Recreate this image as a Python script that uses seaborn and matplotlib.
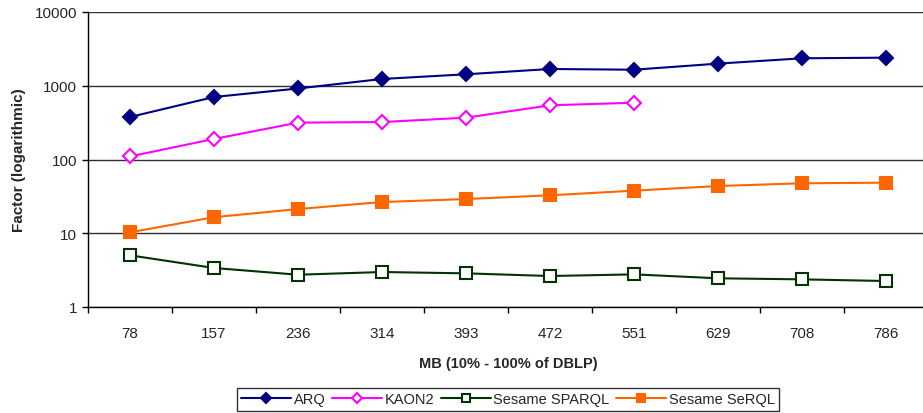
import numpy as np
import pandas as pd
import matplotlib
matplotlib.use('Agg')
import matplotlib.pyplot as plt
import seaborn as sns

# x categories (MB)
sizes = ['78', '157', '236', '314', '393', '472', '551', '629', '708', '786']

# factors
arq = [377, 704, 918, 1236, 1430, 1687, 1650, 1995, 2356, 2404]
kaon2 = [110, 190, 316, 322, 369, 543, 589, np.nan, np.nan, np.nan]
sesame_sparql = [5.02, 3.38, 2.74, 2.98, 2.86, 2.63, 2.77, 2.45, 2.37, 2.25]
sesame_serql = [10.3, 16.5, 21.3, 26.5, 29.1, 32.7, 37.8, 43.7, 47.6, 48.5]

sns.set_style('white')
plt.rcParams['font.family'] = ['Liberation Sans', 'DejaVu Sans']

fig = plt.figure(figsize=(9.23, 4.14), dpi=100)
ax = fig.add_axes([88 / 923, 1 - 308 / 414, 840 / 923, 295 / 414])

pos = np.arange(len(sizes))
series = [
    ('ARQ', arq, '#000080', 'D', '#000080', 7),
    ('KAON2', kaon2, '#FF00FF', 'D', 'white', 7),
    ('Sesame SPARQL', sesame_sparql, '#003300', 's', 'white', 8),
    ('Sesame SeRQL', sesame_serql, '#FF6600', 's', '#FF6600', 8),
]
for name, vals, col, mk, fc, ms in series:
    df = pd.DataFrame({'x': pos, 'y': vals}).dropna()
    sns.lineplot(data=df, x='x', y='y', ax=ax, color=col, marker=mk,
                 markersize=ms, markerfacecolor=fc, markeredgecolor=col,
                 markeredgewidth=1.5, linewidth=1.5, label=name)

ax.set_yscale('log')
ax.set_ylim(1, 10000)
ax.set_xlim(-0.5, len(sizes) - 0.5)
ax.set_yticks([1, 10, 100, 1000, 10000])
ax.set_yticklabels(['1', '10', '100', '1000', '10000'])
ax.yaxis.set_minor_locator(matplotlib.ticker.NullLocator())
ax.set_xticks(pos)
ax.set_xticklabels(sizes)
ax.set_xticks(np.arange(-0.5, len(sizes)), minor=True)
ax.tick_params(axis='x', which='major', length=0, pad=14, labelsize=11)
ax.tick_params(axis='x', which='minor', length=4, width=1, color='black', direction='out')
ax.tick_params(axis='y', which='major', length=4, width=1, color='black', direction='out', labelsize=11, pad=4)
ax.yaxis.set_ticks_position('left')
ax.xaxis.set_ticks_position('bottom')

ax.grid(axis='y', color='#303030', linewidth=1)
ax.grid(axis='x', visible=False)
for s in ['top', 'right']:
    ax.spines[s].set_visible(False)
for s in ['left', 'bottom']:
    ax.spines[s].set_color('black')
    ax.spines[s].set_linewidth(1)

ax.set_xlabel('MB (10% - 100% of DBLP)', fontsize=10.5, fontweight='bold', labelpad=11)
ax.set_ylabel('Factor (logarithmic)', fontsize=11, fontweight='bold', labelpad=6)

leg = ax.legend(loc='upper center', bbox_to_anchor=(0.5, -0.275), ncol=4,
                frameon=True, fancybox=False, edgecolor='black', fontsize=10.5,
                handlelength=3.4, columnspacing=0.45, handletextpad=0.2,
                borderpad=0.3, borderaxespad=0, markerscale=0.8)
leg.get_frame().set_linewidth(1)

fig.savefig('out.png', dpi=100)
